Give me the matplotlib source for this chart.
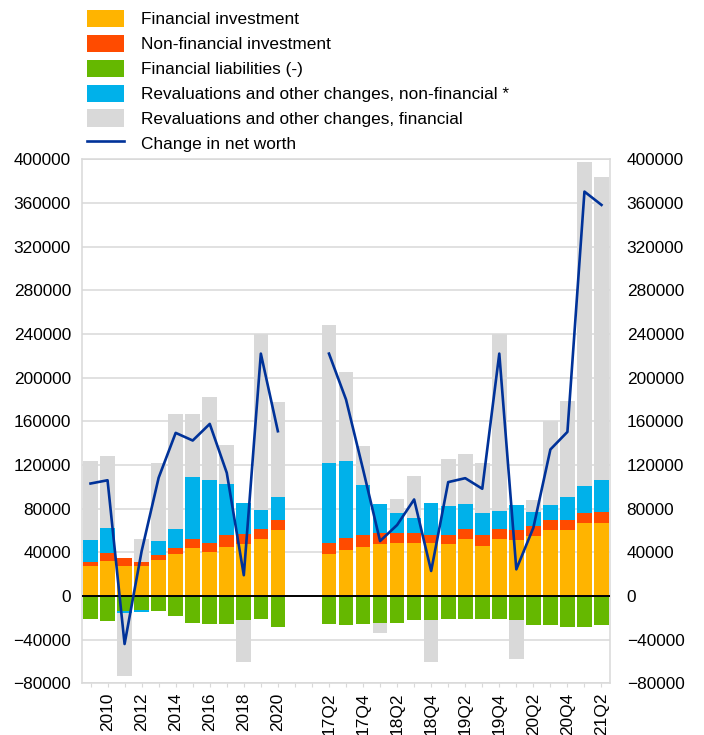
import numpy as np
import matplotlib

matplotlib.use("Agg")
import matplotlib.pyplot as plt
import matplotlib.transforms as mtransforms
from matplotlib.lines import Line2D
from matplotlib.patches import Patch

plt.rcParams["font.family"] = ["Liberation Sans", "DejaVu Sans"]
FS = 12.4

# ----------------------------------------------------------------- dati
years = ["2009", "2010", "2011", "2012", "2013", "2014", "2015", "2016",
         "2017", "2018", "2019", "2020"]
quarters = ["17Q2", "17Q3", "17Q4", "18Q1", "18Q2", "18Q3", "18Q4", "19Q1",
            "19Q2", "19Q3", "19Q4", "20Q1", "20Q2", "20Q3", "20Q4", "21Q1", "21Q2"]

fin_inv_y = [27400, 32400, 27400, 27400, 32600, 38400, 43600, 40600, 44800, 47300, 51900, 60100]
nonfin_inv_y = [4000, 6600, 7100, 3700, 4900, 5200, 8300, 8200, 10700, 9100, 9700, 9100]
fin_liab_y = [-21300, -22500, -14000, -12800, -13700, -18300, -25000, -25900, -25900, -21900, -21300, -28000]
reval_nonfin_y = [19500, 22900, -1200, -1800, 12800, 18000, 57300, 57000, 47300, 28400, 16800, 21100]
reval_fin_y = [73100, 66100, -57800, 21400, 71100, 105400, 57800, 76800, 35300, -39000, 161600, 87100]
net_worth_y = [103000, 106000, -44000, 41000, 108300, 149400, 142400, 157600, 112800, 19000, 222000, 150900]

fin_inv_q = [38800, 42100, 44800, 47300, 48200, 48200, 48200, 47300, 51900, 45700, 51900, 50900,
             54900, 60100, 60100, 66500, 67100]
nonfin_inv_q = [9400, 10700, 10700, 10700, 9800, 9800, 7900, 8800, 9100, 9800, 9700, 9200,
                9100, 9100, 9100, 9700, 9700]
fin_liab_q = [-25600, -26500, -25600, -25000, -24400, -21900, -21900, -21300, -21300, -21300, -21300,
              -22200, -26500, -26500, -28000, -28000, -26500]
reval_nonfin_q = [73200, 71000, 46600, 25900, 17600, 13000, 28900, 26200, 23500, 20700, 16500, 23100,
                  12800, 13800, 21400, 24400, 29300]
reval_fin_q = [126400, 81700, 35700, -8500, 12800, 38700, -39000, 43300, 45100, 45200, 161900, -35100,
               11000, 77700, 87700, 296600, 278000]
net_worth_q = [222000, 180000, 116000, 50300, 65000, 88400, 22900, 104300, 107900, 98200, 222000,
               24400, 62500, 134200, 150300, 370400, 358200]

SERIES = [
    ("Financial investment", "#FFB400", fin_inv_y, fin_inv_q),
    ("Non-financial investment", "#FF4B00", nonfin_inv_y, nonfin_inv_q),
    ("Financial liabilities (-)", "#65B800", fin_liab_y, fin_liab_q),
    ("Revaluations and other changes, non-financial *", "#00B1EA", reval_nonfin_y, reval_nonfin_q),
    ("Revaluations and other changes, financial", "#D9D9D9", reval_fin_y, reval_fin_q),
]
LINE_C = "#003299"
GRID_C = "#D9D9D9"
GAP = 2  # categorie vuote tra annuali e trimestrali

# posizioni sull'asse di categoria
x_y = np.arange(len(years))
x_q = np.arange(len(quarters)) + len(years) + GAP
n_cat = len(years) + GAP + len(quarters)
x_all = np.concatenate([x_y, x_q])

fig = plt.figure(figsize=(7.04, 7.35), dpi=100)
ax = fig.add_axes([82 / 704, 1 - 683.3 / 735, 528 / 704, (683.3 - 159.3) / 735])

# barre impilate: positivi verso l'alto, negativi verso il basso
pos = np.zeros(len(x_all))
neg = np.zeros(len(x_all))
handles = []
for name, color, vy, vq in SERIES:
    v = np.array(vy + vq, dtype=float)
    base = np.where(v >= 0, pos, neg)
    ax.bar(x_all, v, bottom=base, width=0.86, color=color, linewidth=0, zorder=2)
    pos += np.clip(v, 0, None)
    neg += np.clip(v, None, 0)
    handles.append(Patch(facecolor=color, edgecolor="none", label=name))

# linea: interrotta nel vuoto tra le due serie
nw = np.full(n_cat, np.nan)
nw[x_y] = net_worth_y
nw[x_q] = net_worth_q
ax.plot(np.arange(n_cat), nw, color=LINE_C, lw=1.9, zorder=4)
handles.append(Line2D([], [], color=LINE_C, lw=1.9, label="Change in net worth"))

ax.axhline(0, color="black", lw=1.4, zorder=3)

ax.set_xlim(-0.5, n_cat - 0.5)
ax.set_ylim(-80000, 400000)
ax.set_yticks(np.arange(-80000, 400001, 40000))
ax.yaxis.grid(True, color=GRID_C, lw=1.1)
ax.set_axisbelow(True)

labels = [""] * n_cat
for i, lab in enumerate(years):
    if i % 2 == 1:
        labels[x_y[i]] = lab
for i, lab in enumerate(quarters):
    if i % 2 == 0:
        labels[x_q[i]] = lab
ax.set_xticks(np.arange(n_cat))
ax.set_xticklabels(labels, rotation=90, fontsize=FS)
ax.tick_params(axis="x", length=3, color=GRID_C, pad=3.5)
ax.tick_params(axis="y", length=0, labelsize=FS, labelleft=True, labelright=True, pad=8)
for s in ax.spines.values():
    s.set_color(GRID_C)
    s.set_linewidth(1.1)

# etichette di destra un po' piu' distanti dall'asse
offset = mtransforms.ScaledTranslation(4 / 72, 0, fig.dpi_scale_trans)
for t in ax.yaxis.get_major_ticks():
    t.label2.set_transform(t.label2.get_transform() + offset)

fig.legend(handles=handles, loc="upper left", bbox_to_anchor=(87 / 704, 1 - 10 / 735),
           frameon=False, fontsize=FS, handlelength=2.15, handleheight=1.16,
           handletextpad=1.0, labelspacing=0.43, borderpad=0, borderaxespad=0)

fig.savefig("out.png", dpi=100)
